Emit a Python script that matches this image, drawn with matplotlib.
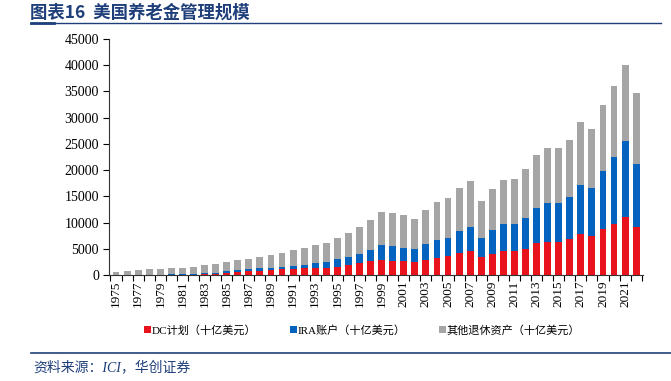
import numpy as np
import matplotlib

matplotlib.use("Agg")
import matplotlib.pyplot as plt
from matplotlib.lines import Line2D

years = list(range(1975, 2023))

# top of each stacked segment (十亿美元)
dc_top = [0, 0, 0, 60, 70, 80, 90, 110, 130, 250, 450, 570, 700, 830, 890, 1080,
          1210, 1340, 1340, 1340, 1590, 1910, 2230, 2670, 2930, 2740, 2670, 2420,
          2930, 3310, 3560, 4200, 4520, 3500, 4070, 4640, 4640, 5030, 6110, 6360,
          6360, 6810, 7760, 7380, 8780, 9800, 11070, 9220]
ira_top = [20, 20, 70, 90, 100, 120, 140, 170, 380, 450, 700, 890, 1080, 1270, 1340, 1460,
           1720, 1970, 2230, 2420, 2990, 3430, 3940, 4770, 5660, 5470, 5220, 4900,
           5920, 6680, 7060, 8400, 9220, 7060, 8520, 9670, 9800, 10940, 12790, 13680,
           13800, 14820, 17240, 16540, 19780, 22520, 25510, 21250]
total = [640, 700, 890, 1080, 1080, 1270, 1300, 1590, 1840, 2160, 2540, 2860, 3120, 3440,
         3880, 4130, 4830, 5150, 5660, 6170, 7130, 8020, 9250, 10560, 12020, 11770,
         11450, 10750, 12470, 13870, 14630, 16600, 17880, 14190, 16480, 18190, 18320,
         20170, 22900, 24170, 24170, 25640, 29070, 27800, 32380, 36070, 39950, 34670]

dc = np.array(dc_top)
ira = np.array(ira_top) - dc
other = np.array(total) - np.array(ira_top)

labels = ["DC计划（十亿美元）", "IRA账户（十亿美元）", "其他退休资产（十亿美元）"]
colors = ["#E8131C", "#0563C0", "#A5A5A5"]

plt.rcParams["font.family"] = ["Liberation Serif", "Noto Sans CJK SC"]

fig = plt.figure(figsize=(6.71, 3.81), dpi=100)
ax = fig.add_axes([0.163, 0.278, 0.795, 0.62])

x = np.arange(len(years))
w = 0.62
ax.bar(x, dc, w, color=colors[0], label=labels[0])
ax.bar(x, ira, w, bottom=dc, color=colors[1], label=labels[1])
ax.bar(x, other, w, bottom=dc + ira, color=colors[2], label=labels[2])

ax.set_ylim(0, 45000)
ax.set_yticks(range(0, 45001, 5000))
ax.set_xlim(-0.6, len(years) - 0.4)
ax.set_xticks(x[::2])
ax.set_xticklabels([str(y) for y in years[::2]], rotation=90)
ax.set_xticks(np.arange(-0.5, len(years), 1), minor=True)
ax.tick_params(axis="x", which="major", length=0, labelsize=9.5, pad=4)
ax.tick_params(axis="x", which="minor", length=4, width=0.8, direction="out")
ax.tick_params(axis="y", length=4, width=0.8, labelsize=10)
for s in ["top", "right"]:
    ax.spines[s].set_visible(False)
ax.spines["left"].set_color("#333333")
ax.spines["bottom"].set_color("#333333")

fig.legend(loc="center", bbox_to_anchor=(0.54, 0.133), ncol=3, frameon=False,
           fontsize=8, handlelength=0.6, handleheight=0.6, handletextpad=0.1,
           columnspacing=3.0)

title_color = "#1F3F7A"
fig.text(0.045, 0.968, "图表16  美国养老金管理规模", fontsize=12.5, fontweight="bold",
         color=title_color, va="center", family=["Noto Sans CJK SC"])
fig.add_artist(Line2D([0.046, 0.985], [0.94, 0.94], color=title_color, lw=1.0))
fig.add_artist(Line2D([0.046, 0.08], [0.94, 0.94], color=title_color, lw=2.0))
fig.add_artist(Line2D([0.046, 1.0], [0.074, 0.074], color=title_color, lw=1.2))
fig.text(0.05, 0.035, "资料来源：ICI，华创证券", fontsize=10, style="italic",
         color=title_color, va="center")

fig.savefig("out.png", dpi=100)
